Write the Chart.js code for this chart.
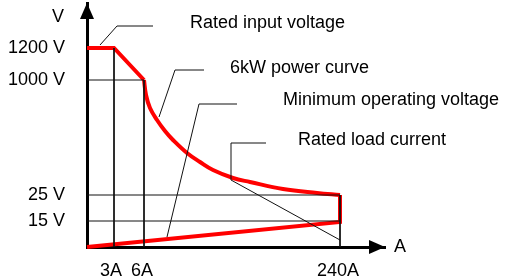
<!DOCTYPE html>
<html>
<head>
<meta charset="utf-8">
<script src="https://cdn.jsdelivr.net/npm/chart.js@4.4.0/dist/chart.umd.min.js"></script>
<style>
  html, body { margin: 0; padding: 0; background: #fff; }
  #wrap { width: 508px; height: 280px; }
</style>
</head>
<body>
<div id="wrap"><canvas id="myChart"></canvas></div>
<script>
// schematic diagram: positions along the axes are not to scale

// tick labels
const xTickPos = [24, 55, 251];
const xTickLabels = ["3A", "6A", "240A"];
const yTickPos = [199, 167, 52, 26];
const yTickLabels = ["1200 V", "1000 V", "25 V", "15 V"];

// red operating envelope
const limitTop = [{ x: 0, y: 199 }, { x: 27, y: 199 }, { x: 57, y: 167 }];
const powerCurve = [
  { x: 57, y: 167 }, { x: 59, y: 152 }, { x: 63, y: 139 }, { x: 70, y: 127 },
  { x: 78, y: 116 }, { x: 86, y: 107 }, { x: 100, y: 94 }, { x: 113, y: 85 },
  { x: 126, y: 77 }, { x: 146, y: 69 }, { x: 163, y: 65 }, { x: 196, y: 58 },
  { x: 230, y: 54 }, { x: 253, y: 52 }
];
const limitBottom = [{ x: 253, y: 52 }, { x: 253, y: 25 }, { x: 0, y: 0 }];

// thin guide lines
const guideSegments = [
  [{ x: 27, y: 199 }, { x: 27, y: 0 }],
  [{ x: 0, y: 167 }, { x: 57, y: 167 }, { x: 57, y: 0 }],
  [{ x: 0, y: 52 }, { x: 253, y: 52 }, { x: 253, y: 0 }],
  [{ x: 0, y: 26 }, { x: 253, y: 26 }]
];

// leader lines for the notes
const leaderSegments = [
  [{ x: 13, y: 202 }, { x: 30, y: 221 }, { x: 66, y: 221 }],
  [{ x: 72, y: 130 }, { x: 88, y: 177 }, { x: 117, y: 177 }],
  [{ x: 80, y: 10 }, { x: 112, y: 143 }, { x: 150, y: 143 }],
  [{ x: 253, y: 7 }, { x: 144, y: 67 }, { x: 144, y: 104 }, { x: 179, y: 104 }]
];
const noteTexts = ["Rated input voltage", "6kW power curve", "Minimum operating voltage", "Rated load current"];
const notePos = [{ x: 103, y: 224 }, { x: 143, y: 179 }, { x: 196, y: 147 }, { x: 211, y: 107 }];

const FONT = "'Liberation Sans', Arial, sans-serif";

function thinLine(data) {
  return {
    data: data,
    borderColor: "#111",
    borderWidth: 1,
    pointRadius: 0,
    showLine: true,
    fill: false,
    clip: false
  };
}

function redLine(data, width, tension) {
  return {
    data: data,
    borderColor: "#ff0000",
    borderWidth: width,
    pointRadius: 0,
    showLine: true,
    fill: false,
    tension: tension,
    borderJoinStyle: "miter",
    clip: false
  };
}

// arrows, axis names and notes
const decorPlugin = {
  id: "decor",
  afterDraw(chart) {
    const ctx = chart.ctx;
    const a = chart.chartArea;
    const xs = chart.scales.x;
    const ys = chart.scales.y;
    ctx.save();
    ctx.fillStyle = "#000";
    ctx.beginPath();
    ctx.moveTo(a.left, a.top);
    ctx.lineTo(a.left - 7, a.top + 16);
    ctx.lineTo(a.left + 7, a.top + 16);
    ctx.closePath();
    ctx.fill();
    ctx.beginPath();
    ctx.moveTo(a.right, a.bottom);
    ctx.lineTo(a.right - 16, a.bottom - 7);
    ctx.lineTo(a.right - 16, a.bottom + 7);
    ctx.closePath();
    ctx.fill();

    ctx.font = "18px " + FONT;
    ctx.textBaseline = "middle";
    ctx.textAlign = "center";
    ctx.fillText("V", a.left - 29, a.top + 14);
    ctx.textAlign = "left";
    ctx.fillText("A", a.right + 9, a.bottom);
    noteTexts.forEach(function (t, i) {
      ctx.fillText(t, xs.getPixelForValue(notePos[i].x), ys.getPixelForValue(notePos[i].y));
    });
    ctx.restore();
  }
};

function initializeChart() {
  const ctx = document.getElementById("myChart").getContext("2d");
  const datasets = [];
  guideSegments.forEach(function (s) { datasets.push(thinLine(s)); });
  leaderSegments.forEach(function (s) { datasets.push(thinLine(s)); });
  datasets.push(redLine(limitTop, 4, 0));
  datasets.push(redLine(powerCurve, 4, 0.4));
  datasets.push(redLine(limitBottom, 4, 0));

  new Chart(ctx, {
    type: "scatter",
    data: { datasets: datasets },
    options: {
      responsive: true,
      maintainAspectRatio: false,
      animation: false,
      layout: { padding: { top: 3, right: 123, left: 0, bottom: 0 } },
      plugins: {
        legend: { display: false },
        tooltip: { enabled: false }
      },
      scales: {
        x: {
          type: "linear",
          min: 0,
          max: 298,
          grid: { display: false },
          border: { display: true, color: "#000", width: 3 },
          afterBuildTicks: function (scale) {
            scale.ticks = xTickPos.map(function (v) { return { value: v }; });
          },
          afterFit: function (scale) {
            scale.height = 33;
            scale.paddingLeft = 0;
            scale.paddingRight = 0;
          },
          ticks: {
            autoSkip: false,
            maxRotation: 0,
            padding: 5,
            color: "#000",
            font: { family: FONT, size: 18 },
            callback: function (value) {
              return xTickLabels[xTickPos.indexOf(value)];
            }
          }
        },
        y: {
          type: "linear",
          min: 0,
          max: 244,
          grid: { display: false },
          border: { display: true, color: "#000", width: 3 },
          afterBuildTicks: function (scale) {
            scale.ticks = yTickPos.map(function (v) { return { value: v }; });
          },
          afterFit: function (scale) {
            scale.width = 87;
            scale.paddingTop = 0;
            scale.paddingBottom = 0;
          },
          ticks: {
            autoSkip: false,
            padding: 14,
            color: "#000",
            font: { family: FONT, size: 18 },
            callback: function (value) {
              return yTickLabels[yTickPos.indexOf(value)];
            }
          }
        }
      }
    },
    plugins: [decorPlugin]
  });
}

document.addEventListener("DOMContentLoaded", initializeChart);
</script>
</body>
</html>
